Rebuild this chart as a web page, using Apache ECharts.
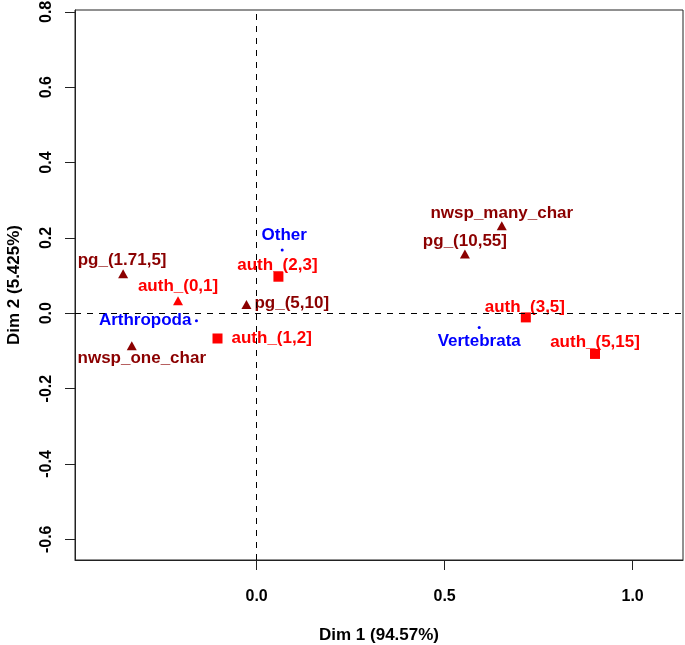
<!DOCTYPE html>
<html>
<head>
<meta charset="utf-8">
<script src="https://cdn.jsdelivr.net/npm/echarts@6/dist/echarts.min.js"></script>
<style>
html,body{margin:0;padding:0;background:#fff;}
#chart{width:685px;height:645px;}
</style>
</head>
<body>
<div id="chart"></div>
<script>
// ---- data ----
const pointNames = ['pg_(1.71,5]', 'auth_(0,1]', 'Arthropoda', 'nwsp_one_char', 'auth_(1,2]', 'pg_(5,10]', 'auth_(2,3]', 'Other', 'nwsp_many_char', 'pg_(10,55]', 'auth_(3,5]', 'Vertebrata', 'auth_(5,15]'];
const dim1Values = [-0.355, -0.209, -0.160, -0.332, -0.104, -0.027, 0.058, 0.068, 0.652, 0.554, 0.716, 0.592, 0.900];
const dim2Values = [0.105, 0.033, -0.020, -0.086, -0.067, 0.023, 0.097, 0.168, 0.232, 0.157, -0.011, -0.038, -0.108];
const pointKinds = ['var', 'authTri', 'taxon', 'var', 'auth', 'var', 'auth', 'taxon', 'var', 'var', 'auth', 'taxon', 'auth'];
const xTicks = [0.0, 0.5, 1.0];
const yTicks = [-0.6, -0.4, -0.2, 0.0, 0.2, 0.4, 0.6, 0.8];
const xTitle = 'Dim 1 (94.57%)';
const yTitle = 'Dim 2 (5.425%)';

// ---- layout / style ----
const kindStyle = {
  var:     {symbol: 'triangle', size: [10, 9], color: '#8B0000'},
  authTri: {symbol: 'triangle', size: [10, 9], color: '#FF0000'},
  auth:    {symbol: 'rect',     size: [10, 10], color: '#FF0000'},
  taxon:   {symbol: 'circle',   size: 3,  color: '#0000FF'}
};
// label placement: [align, dx, dy] relative to point centre
const labelPlace = [
  ['center', -1, -13], ['center', 0, -15], ['right', -5, 0], ['center', 10, 13],
  ['left', 14, 0], ['left', 8, -1], ['center', -1, -11], ['center', 2, -15],
  ['center', 0, -13], ['center', 0, -13], ['center', -1, -10], ['center', 0, 14],
  ['center', 0, -12]
];
const FONT = '"Liberation Sans", Arial, Helvetica, sans-serif';

const data = pointNames.map((n, i) => {
  const st = kindStyle[pointKinds[i]];
  const lp = labelPlace[i];
  return {
    name: n,
    value: [dim1Values[i], dim2Values[i]],
    symbol: st.symbol,
    symbolSize: st.size,
    itemStyle: {color: st.color, opacity: 1},
    label: {
      show: true,
      formatter: n,
      position: 'inside',
      align: lp[0],
      verticalAlign: 'middle',
      offset: [lp[1], lp[2]],
      color: st.color,
      fontSize: 17,
      fontWeight: 'bold',
      fontFamily: FONT
    }
  };
});

const chart = echarts.init(document.getElementById('chart'), null, {renderer: 'canvas'});
chart.setOption({
  animation: false,
  backgroundColor: '#fff',
  grid: {left: 75, right: 2, top: 10, bottom: 85, show: true, borderColor: '#222', borderWidth: 1, backgroundColor: 'transparent', containLabel: false, outerBoundsMode: 'none'},
  xAxis: {
    type: 'value', min: -0.483, max: 1.134, position: 'bottom',
    splitLine: {show: false},
    axisLine: {show: true, onZero: false, lineStyle: {color: '#222', width: 1}},
    axisTick: {show: true, inside: false, length: 10, customValues: xTicks, lineStyle: {color: '#222', width: 1}},
    axisLabel: {customValues: xTicks, margin: 29, formatter: v => Number(v).toFixed(1), color: '#000', fontSize: 16, fontWeight: 'bold', fontFamily: FONT},
    name: xTitle, nameLocation: 'middle', nameGap: 67,
    nameTextStyle: {color: '#000', fontSize: 17, fontWeight: 'bold', fontFamily: FONT}
  },
  yAxis: {
    type: 'value', min: -0.655, max: 0.805, position: 'left',
    splitLine: {show: false},
    axisLine: {show: true, onZero: false, lineStyle: {color: '#222', width: 1}},
    axisTick: {show: true, inside: false, length: 10, customValues: yTicks, lineStyle: {color: '#222', width: 1}},
    axisLabel: {customValues: yTicks, rotate: 90, margin: 20, formatter: v => Number(v).toFixed(1), color: '#000', fontSize: 16, fontWeight: 'bold', fontFamily: FONT},
    name: yTitle, nameLocation: 'middle', nameGap: 52,
    nameTextStyle: {color: '#000', fontSize: 17, fontWeight: 'bold', fontFamily: FONT}
  },
  series: [{
    type: 'scatter',
    data: data,
    z: 3,
    markLine: {
      silent: true,
      symbol: ['none', 'none'],
      label: {show: false},
      lineStyle: {color: '#000', type: [6, 6], width: 1},
      data: [{xAxis: 0}, {yAxis: 0}]
    }
  }]
});
</script>
</body>
</html>
